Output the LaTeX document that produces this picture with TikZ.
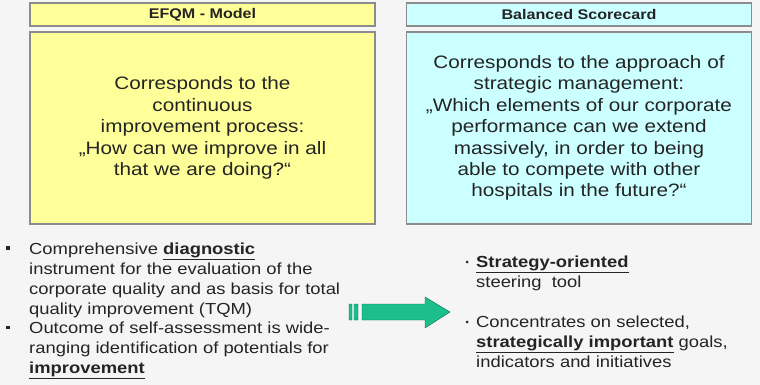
\documentclass[tikz,border=0pt]{standalone}
\usepackage{fontspec}
\setmainfont{Liberation Sans}[FakeStretch=1.15]
\usepackage{xcolor}
\definecolor{efqm}{HTML}{FFFF99}
\definecolor{bsc}{HTML}{CCFFFF}
\definecolor{arrowgreen}{HTML}{1CBF8C}
\definecolor{frame}{HTML}{8C8C8C}
\definecolor{ink}{HTML}{242424}
\tikzset{
	header/.style={
			draw=frame, line width=1.2pt, inner sep=0pt,
			minimum width=345pt, minimum height=23pt,
			font=\fontsize{14}{16}\selectfont\bfseries, text=ink
		},
	panel/.style={
			draw=frame, line width=1.2pt, inner sep=0pt, align=center,
			minimum width=345pt, minimum height=192pt,
			font=\fontsize{18}{21.4}\selectfont, text=ink
		},
	% placed at the baseline of the last line
	item/.style={
			anchor=base west, align=left, inner sep=0pt,
			font=\fontsize{16}{19.7}\selectfont, text=ink
		},
	sqbullet/.style={fill=ink, inner sep=0pt, minimum size=3.8pt},
	dotbullet/.style={circle, fill=ink, inner sep=0pt, minimum size=3pt}
}

\begin{document}
\begin{tikzpicture}[x=1pt, y=-1pt]
		\fill [black!4] (0,0) rectangle (760,385);
		\useasboundingbox (0,0) rectangle (760,385);

		% the two models
		\node [header, fill=efqm]	(efqmhead)	at (202.5,14.5)	{EFQM - Model};
		\node [header, fill=bsc]	(bschead)	at (579,14.5)	{Balanced Scorecard};

		\node [panel, fill=efqm]	(efqm)	at (202.5,128)	{Corresponds to the\\ continuous\\ improvement process:\\ „How can we improve in all\\ that we are doing?“};
		\node [panel, fill=bsc]		(bsc)	at (579,128)	{Corresponds to the approach of\\ strategic management:\\ „Which elements of our corporate\\ performance can we extend\\ massively, in order to being\\ able to compete with other\\ hospitals in the future?“};

		% bullet lists
		\node [sqbullet]	(b1)	at (8,248)	{};
		\node [item]		(diag)	at (29,314)	{Comprehensive \underline{\textbf{diagnostic}}\\ instrument for the evaluation of the\\ corporate quality and as basis for total\\ quality improvement (TQM)};
		\node [sqbullet]	(b2)	at (8,327.5)	{};
		\node [item]		(outcome)	at (29,373)	{Outcome of self-assessment is wide-\\ ranging identification of potentials for\\ \underline{\textbf{improvement}}};

		\node [dotbullet]	(b3)	at (467,262)	{};
		\node [item]		(steer)	at (476,287.5)	{\underline{\textbf{Strategy-oriented}}\\ steering\ \ tool};
		\node [dotbullet]	(b4)	at (467,322)	{};
		\node [item]		(focus)	at (476,367)	{Concentrates on selected,\\ \underline{\textbf{strategically important}} goals,\\ indicators and initiatives};

		% block arrow
		\filldraw [fill=arrowgreen, draw=arrowgreen!55!black, line width=0.4pt]
							(349,304) rectangle (352,320)
							(354,304) rectangle (358,320)
							(362,304) -- (425,304) -- (425,297) -- (450,312)
							-- (425,328) -- (425,320) -- (362,320) -- cycle;
	\end{tikzpicture}
\end{document}
